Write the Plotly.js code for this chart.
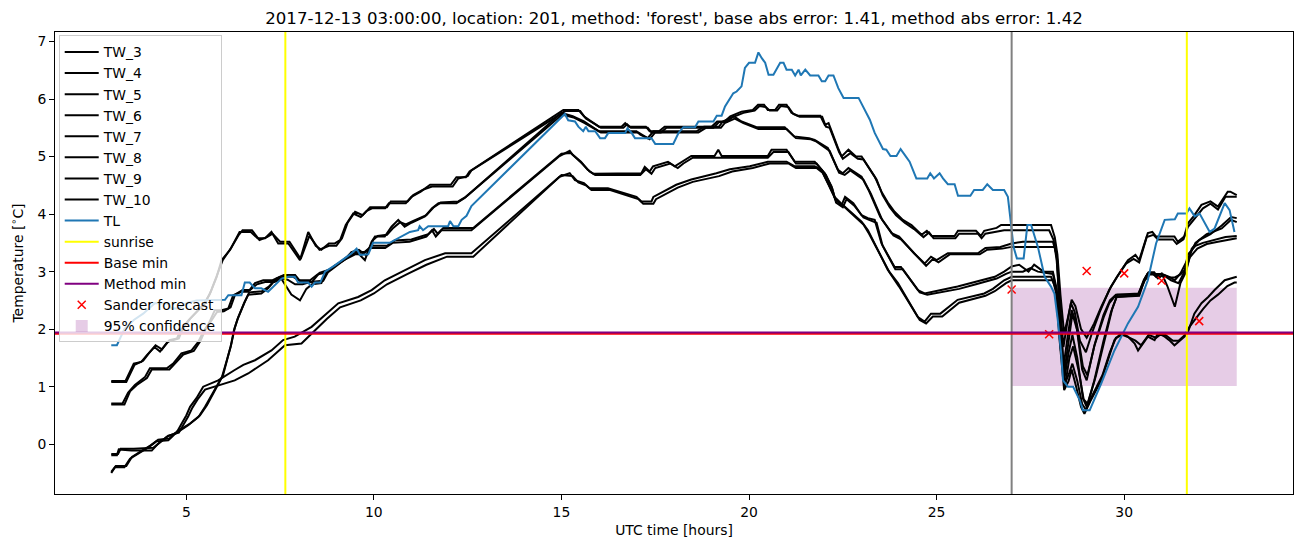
<!DOCTYPE html>
<html>
<head>
<meta charset="utf-8">
<script src="https://cdn.plot.ly/plotly-3.0.1.min.js"></script>
<style>
  html, body { margin: 0; padding: 0; background: #fff; }
  #plot { width: 1302px; height: 547px; }
</style>
</head>
<body>
<div id="plot"></div>
<script>
// water temperature sensors, [hour, value]
const tw3 = [[3.0,1.10],[3.38,1.10],[3.6,1.40],[3.8,1.43],[3.95,1.55],[4.15,1.69],[4.3,1.61],[4.45,1.72],[4.55,1.81],[4.75,1.84],[4.85,1.98],[5.05,2.15],[5.27,2.3],[5.45,2.42],[5.62,2.6],[5.81,2.91],[5.94,3.2],[6.17,3.38],[6.42,3.69],[6.55,3.69],[6.72,3.69],[6.9,3.58],[7.1,3.58],[7.27,3.69],[7.45,3.49],[7.72,3.49],[8.03,3.20],[8.25,3.69],[8.45,3.45],[8.6,3.38],[8.8,3.49],[8.96,3.49],[9.1,3.55],[9.25,3.81],[9.45,4.01],[9.65,3.95],[9.8,4.05],[9.95,4.10],[10.3,4.10],[10.4,4.19],[10.85,4.19],[11.0,4.30],[11.25,4.39],[11.5,4.51],[12.05,4.51],[12.2,4.64],[12.45,4.64],[12.55,4.74],[15.05,5.81],[15.45,5.81],[15.6,5.70],[15.8,5.61],[16.0,5.52],[16.6,5.52],[16.7,5.58],[16.8,5.52],[17.25,5.52],[17.35,5.44],[17.6,5.44],[17.75,5.52],[19.0,5.52],[19.15,5.61],[19.35,5.61],[19.5,5.70],[19.8,5.78],[20.1,5.81],[20.24,5.90],[20.4,5.90],[20.5,5.81],[20.7,5.81],[20.8,5.90],[21.0,5.90],[21.13,5.76],[21.3,5.71],[21.9,5.71],[22.02,5.55],[22.12,5.58],[22.37,5.15],[22.47,5.00],[22.65,5.12],[22.85,5.00],[23.0,5.00],[23.17,4.83],[23.35,4.65],[23.53,4.39],[23.7,4.2],[23.88,4.04],[24.1,3.9],[24.33,3.81],[24.6,3.64],[24.74,3.71],[24.87,3.62],[25.48,3.62],[25.57,3.71],[26.05,3.71],[26.18,3.62],[26.27,3.71],[26.6,3.76],[26.72,3.81],[28.05,3.81],[28.15,3.6],[28.22,3.3],[28.3,2.6],[28.4,1.92],[28.5,2.2],[28.6,2.51],[28.7,2.4],[28.85,2.0],[29.0,1.85],[29.2,2.1],[29.39,2.39],[29.65,2.74],[29.85,2.95],[30.1,3.20],[30.3,3.29],[30.4,3.20],[30.63,3.67],[30.75,3.69],[30.85,3.61],[31.34,3.61],[31.43,3.52],[31.6,3.61],[31.7,3.84],[31.85,3.96],[32.06,4.16],[32.3,4.22],[32.5,4.13],[32.76,4.39],[32.83,4.39],[33.0,4.33]];
const tw4 = [[3.0,1.08],[3.4,1.08],[3.62,1.38],[3.85,1.45],[4.0,1.58],[4.18,1.72],[4.35,1.65],[4.5,1.78],[4.8,1.84],[4.9,2.0],[5.1,2.18],[5.3,2.32],[5.5,2.45],[5.65,2.65],[5.85,2.98],[5.97,3.2],[6.2,3.42],[6.4,3.64],[6.5,3.72],[6.75,3.72],[6.95,3.55],[7.15,3.6],[7.3,3.66],[7.5,3.52],[7.75,3.52],[8.05,3.22],[8.28,3.62],[8.42,3.5],[8.55,3.38],[8.8,3.45],[9.0,3.45],[9.15,3.58],[9.3,3.85],[9.5,4.04],[9.7,3.98],[9.9,4.12],[10.35,4.12],[10.45,4.22],[10.9,4.22],[11.05,4.33],[11.3,4.42],[11.55,4.48],[12.1,4.48],[12.25,4.62],[12.5,4.66],[12.6,4.76],[15.1,5.79],[15.5,5.79],[15.65,5.66],[15.85,5.58],[16.05,5.5],[16.65,5.5],[16.75,5.56],[16.85,5.5],[17.3,5.5],[17.4,5.42],[17.65,5.42],[17.8,5.5],[19.05,5.5],[19.2,5.6],[19.4,5.6],[19.55,5.68],[19.85,5.76],[20.15,5.8],[20.28,5.88],[20.45,5.86],[20.55,5.8],[20.75,5.8],[20.85,5.88],[21.05,5.86],[21.18,5.74],[21.35,5.69],[21.95,5.69],[22.05,5.52],[22.15,5.5],[22.4,5.08],[22.5,4.96],[22.7,5.06],[22.9,4.96],[23.05,4.95],[23.2,4.8],[23.4,4.6],[23.56,4.33],[23.75,4.12],[23.92,3.98],[24.15,3.85],[24.4,3.74],[24.65,3.6],[24.8,3.68],[24.92,3.58],[25.5,3.58],[25.6,3.66],[26.1,3.66],[26.2,3.58],[26.3,3.66],[26.65,3.7],[26.8,3.72],[28.0,3.72],[28.12,3.55],[28.2,3.2],[28.28,2.5],[28.38,1.69],[28.48,2.1],[28.58,2.45],[28.68,2.3],[28.82,1.8],[28.98,1.6],[29.15,1.95],[29.35,2.3],[29.6,2.68],[29.8,2.9],[30.05,3.14],[30.25,3.22],[30.4,3.16],[30.6,3.6],[30.78,3.64],[30.9,3.56],[31.3,3.56],[31.4,3.48],[31.58,3.56],[31.7,3.78],[31.88,3.92],[32.1,4.1],[32.3,4.18],[32.5,4.08],[32.7,4.3],[32.85,4.3],[33.0,4.3]];
const tw5 = [[3.0,0.71],[3.3,0.71],[3.45,0.9],[3.63,1.03],[3.9,1.17],[4.03,1.32],[4.48,1.32],[4.65,1.40],[4.87,1.58],[5.14,1.63],[5.32,1.78],[5.45,1.95],[5.6,2.1],[5.76,2.33],[5.94,2.33],[6.12,2.36],[6.25,2.59],[6.47,2.65],[6.65,2.65],[6.83,2.80],[7.05,2.85],[7.3,2.85],[7.5,2.91],[7.62,2.78],[7.8,2.6],[8.03,2.50],[8.2,2.7],[8.35,2.78],[8.6,2.80],[8.75,3.0],[8.95,3.1],[9.2,3.2],[9.35,3.3],[9.58,3.32],[9.76,3.2],[9.94,3.52],[10.03,3.61],[10.29,3.61],[10.47,3.78],[10.65,3.90],[10.82,3.78],[11.0,3.85],[11.36,3.96],[11.55,4.1],[11.72,4.19],[12.2,4.19],[12.42,4.28],[15.0,5.76],[15.3,5.70],[15.6,5.61],[16.0,5.44],[17.0,5.44],[17.1,5.38],[17.3,5.32],[17.45,5.44],[18.6,5.44],[18.8,5.52],[19.2,5.52],[19.3,5.61],[19.6,5.70],[19.8,5.61],[20.2,5.51],[20.95,5.51],[21.2,5.35],[21.6,5.32],[21.75,5.29],[22.1,5.15],[22.37,4.77],[22.5,4.71],[22.65,4.80],[23.0,4.65],[23.2,4.4],[23.5,3.95],[23.8,3.67],[24.0,3.61],[24.4,3.32],[24.68,3.14],[24.85,3.26],[25.0,3.20],[25.3,3.32],[26.1,3.32],[26.3,3.41],[26.7,3.43],[27.0,3.49],[27.3,3.52],[28.1,3.52],[28.2,3.3],[28.28,2.3],[28.38,1.34],[28.5,1.9],[28.6,2.33],[28.72,2.1],[28.88,1.3],[29.0,1.11],[29.2,1.7],[29.45,2.2],[29.6,2.45],[29.74,2.56],[30.36,2.59],[30.5,2.8],[30.63,2.97],[30.75,2.97],[30.85,2.91],[31.0,2.97],[31.15,2.75],[31.35,2.39],[31.5,2.8],[31.65,3.0],[31.8,3.4],[32.0,3.55],[32.3,3.65],[32.6,3.8],[32.85,3.95],[33.0,3.93]];
const tw6 = [[3.0,0.69],[3.35,0.69],[3.5,0.92],[3.68,1.03],[3.95,1.15],[4.08,1.3],[4.55,1.3],[4.72,1.42],[4.92,1.56],[5.2,1.62],[5.38,1.8],[5.5,1.98],[5.65,2.12],[5.82,2.3],[6.0,2.31],[6.18,2.38],[6.3,2.6],[6.5,2.68],[6.7,2.68],[6.88,2.78],[7.1,2.82],[7.35,2.82],[7.55,2.88],[7.7,2.86],[7.9,2.78],[8.1,2.78],[8.3,2.82],[8.65,2.84],[8.8,3.02],[9.0,3.12],[9.25,3.22],[9.4,3.34],[9.6,3.38],[9.8,3.28],[9.98,3.55],[10.1,3.62],[10.35,3.64],[10.5,3.75],[10.7,3.86],[10.85,3.82],[11.05,3.88],[11.4,3.98],[11.6,4.12],[11.78,4.2],[12.25,4.22],[12.45,4.3],[15.02,5.73],[15.32,5.68],[15.62,5.58],[16.05,5.42],[17.05,5.42],[17.35,5.3],[17.5,5.42],[18.65,5.42],[18.85,5.5],[19.25,5.5],[19.35,5.58],[19.62,5.66],[19.85,5.58],[20.25,5.48],[21.0,5.48],[21.25,5.32],[21.65,5.3],[21.8,5.26],[22.15,5.1],[22.4,4.72],[22.55,4.68],[22.7,4.76],[23.05,4.6],[23.25,4.35],[23.55,3.9],[23.85,3.63],[24.05,3.56],[24.45,3.28],[24.72,3.1],[24.9,3.22],[25.05,3.16],[25.35,3.3],[26.15,3.3],[26.35,3.38],[26.75,3.4],[27.0,3.43],[28.15,3.43],[28.22,3.2],[28.3,2.2],[28.4,1.23],[28.52,1.8],[28.62,2.27],[28.74,2.0],[28.9,1.35],[29.02,1.2],[29.22,1.75],[29.45,2.25],[29.62,2.5],[29.78,2.6],[30.4,2.62],[30.55,2.85],[30.68,2.95],[30.8,2.95],[30.9,2.88],[31.05,2.95],[31.2,2.91],[31.35,2.85],[31.5,2.97],[31.68,3.2],[31.9,3.5],[32.2,3.65],[32.6,3.75],[32.85,3.9],[33.0,3.86]];
const tw7 = [[3.0,-0.50],[3.1,-0.40],[3.35,-0.40],[3.5,-0.25],[3.75,-0.15],[4.0,-0.05],[4.2,0.05],[4.52,0.07],[4.7,0.18],[5.05,0.33],[5.32,0.47],[5.5,0.65],[5.7,0.88],[5.95,1.17],[6.08,1.46],[6.18,1.69],[6.27,1.98],[6.36,2.16],[6.54,2.45],[6.65,2.6],[7.0,2.62],[7.18,2.71],[7.36,2.85],[7.54,2.91],[7.85,2.91],[8.0,2.85],[8.3,2.85],[8.5,2.95],[8.8,3.0],[9.0,3.1],[9.2,3.2],[9.5,3.3],[9.7,3.3],[9.9,3.41],[10.3,3.41],[10.5,3.50],[10.95,3.52],[11.4,3.61],[11.55,3.72],[11.65,3.61],[11.8,3.72],[12.6,3.72],[14.95,5.01],[15.22,5.10],[15.3,5.03],[15.52,4.91],[15.7,4.77],[15.85,4.70],[17.13,4.71],[17.22,4.82],[17.35,4.74],[17.44,4.83],[17.84,4.91],[18.02,4.83],[18.2,4.91],[18.46,5.01],[19.08,5.01],[19.18,5.12],[19.27,5.01],[20.5,5.01],[20.6,5.12],[21.0,5.12],[21.22,4.91],[21.75,4.91],[22.02,4.71],[22.2,4.48],[22.3,4.25],[22.47,4.16],[22.56,4.30],[22.78,4.19],[23.0,3.98],[23.17,3.93],[23.35,3.90],[23.53,3.49],[23.88,3.08],[24.05,3.08],[24.5,2.68],[24.68,2.62],[25.56,2.74],[26.0,2.82],[26.55,2.91],[26.8,3.0],[27.0,3.09],[27.2,3.12],[27.45,3.0],[27.6,3.12],[27.85,3.0],[28.1,3.0],[28.2,2.7],[28.3,1.8],[28.4,1.11],[28.52,1.6],[28.62,1.9],[28.75,1.5],[28.9,0.8],[29.0,0.65],[29.2,1.1],[29.45,1.8],[29.65,2.3],[29.8,2.56],[30.4,2.58],[30.55,2.88],[30.65,2.99],[30.8,2.99],[30.9,2.9],[31.05,2.94],[31.25,2.85],[31.45,2.8],[31.6,2.99],[31.7,3.3],[31.9,3.45],[32.1,3.5],[32.4,3.55],[32.7,3.6],[33.0,3.62]];
const tw8 = [[3.0,-0.48],[3.12,-0.38],[3.4,-0.38],[3.55,-0.22],[3.8,-0.12],[4.05,-0.02],[4.25,0.08],[4.55,0.1],[4.75,0.22],[5.1,0.36],[5.36,0.5],[5.55,0.68],[5.75,0.92],[5.98,1.2],[6.1,1.5],[6.2,1.74],[6.29,2.02],[6.38,2.2],[6.56,2.48],[6.68,2.64],[7.02,2.66],[7.2,2.74],[7.4,2.88],[7.6,2.94],[7.9,2.94],[8.05,2.82],[8.35,2.82],[8.55,2.98],[8.85,3.04],[9.05,3.14],[9.25,3.24],[9.55,3.34],[9.75,3.34],[9.95,3.45],[10.35,3.45],[10.55,3.54],[11.0,3.56],[11.45,3.65],[11.6,3.74],[11.7,3.66],[11.85,3.76],[12.65,3.76],[15.0,5.05],[15.25,5.06],[15.55,4.88],[15.75,4.74],[15.9,4.68],[17.1,4.68],[17.25,4.78],[17.4,4.7],[17.5,4.8],[17.9,4.88],[18.1,4.8],[18.25,4.88],[18.5,4.98],[20.5,4.98],[20.65,5.08],[21.05,5.08],[21.25,4.88],[21.8,4.88],[22.05,4.68],[22.22,4.44],[22.32,4.2],[22.5,4.12],[22.6,4.26],[22.8,4.15],[23.05,3.94],[23.2,3.9],[23.4,3.85],[23.56,3.45],[23.9,3.04],[24.1,3.04],[24.55,2.64],[24.75,2.6],[25.6,2.7],[26.05,2.78],[26.6,2.88],[26.85,2.96],[27.0,3.0],[27.3,3.0],[27.5,3.06],[27.7,3.0],[28.1,2.96],[28.22,2.6],[28.32,1.7],[28.42,1.0],[28.54,1.5],[28.64,1.7],[28.78,1.3],[28.92,0.78],[29.03,0.7],[29.25,1.2],[29.5,1.9],[29.68,2.35],[29.82,2.6],[30.38,2.6],[30.52,2.85],[30.62,2.96],[31.0,2.96],[31.2,2.9],[31.35,2.9],[31.5,2.95],[31.65,3.05],[31.75,3.25],[31.95,3.4],[32.2,3.48],[32.5,3.52],[32.8,3.56],[33.0,3.58]];
const tw9 = [[3.0,-0.19],[3.15,-0.19],[3.2,-0.09],[3.54,-0.11],[4.08,-0.11],[4.25,0.01],[4.48,0.13],[4.74,0.2],[4.87,0.35],[5.0,0.5],[5.1,0.65],[5.27,0.8],[5.45,1.0],[5.85,1.11],[6.29,1.29],[6.52,1.38],[6.83,1.46],[7.27,1.63],[7.58,1.81],[7.89,1.87],[8.34,2.04],[8.7,2.25],[9.05,2.45],[9.58,2.56],[9.94,2.68],[10.29,2.85],[10.82,3.03],[11.36,3.20],[11.9,3.32],[12.6,3.32],[14.95,4.65],[15.22,4.71],[15.36,4.59],[15.6,4.54],[15.75,4.45],[16.24,4.45],[17.0,4.30],[17.13,4.22],[17.4,4.22],[17.45,4.30],[18.06,4.51],[18.46,4.60],[19.13,4.71],[19.49,4.78],[20.02,4.83],[20.5,4.91],[21.0,4.91],[21.22,4.83],[21.75,4.83],[21.93,4.77],[22.1,4.54],[22.28,4.30],[22.45,4.19],[23.0,3.87],[23.17,3.72],[23.53,3.26],[23.7,3.03],[23.97,2.80],[24.5,2.21],[24.68,2.13],[24.85,2.27],[25.1,2.27],[25.56,2.51],[26.27,2.62],[26.5,2.7],[26.8,2.85],[27.0,2.91],[28.05,2.91],[28.18,2.7],[28.28,1.8],[28.4,0.94],[28.52,1.1],[28.6,1.3],[28.72,1.0],[28.85,0.65],[28.94,0.53],[29.1,0.75],[29.39,1.11],[29.6,1.55],[29.74,1.81],[29.92,1.93],[30.1,1.87],[30.28,1.75],[30.37,1.63],[30.63,1.87],[30.81,1.81],[30.9,1.93],[31.08,1.87],[31.2,1.81],[31.34,1.72],[31.61,1.87],[31.7,1.95],[31.87,2.27],[32.06,2.45],[32.24,2.56],[32.41,2.68],[32.68,2.85],[32.94,2.91],[33.0,2.91]];
const tw10 = [[3.0,-0.17],[3.18,-0.17],[3.25,-0.08],[3.6,-0.08],[4.12,-0.06],[4.3,0.03],[4.52,0.15],[4.8,0.2],[4.92,0.33],[5.05,0.48],[5.15,0.62],[5.3,0.78],[5.5,0.95],[6.29,1.11],[6.65,1.23],[7.18,1.46],[7.63,1.72],[8.07,1.75],[8.4,1.96],[8.75,2.18],[9.1,2.38],[9.65,2.5],[10.0,2.62],[10.35,2.78],[10.9,2.96],[11.4,3.12],[11.95,3.26],[12.65,3.26],[15.0,4.68],[15.3,4.66],[15.45,4.55],[15.65,4.5],[15.8,4.42],[16.3,4.42],[17.05,4.26],[17.18,4.18],[17.45,4.18],[17.52,4.26],[18.1,4.46],[18.5,4.56],[19.2,4.66],[19.55,4.74],[20.1,4.8],[20.55,4.88],[21.05,4.88],[21.25,4.8],[21.8,4.8],[21.96,4.72],[22.13,4.5],[22.3,4.26],[22.5,4.15],[23.05,3.82],[23.2,3.66],[23.56,3.2],[23.75,2.98],[24.0,2.74],[24.55,2.16],[24.72,2.1],[24.9,2.22],[25.15,2.22],[25.6,2.46],[26.3,2.58],[26.55,2.66],[26.85,2.8],[27.0,2.85],[28.1,2.85],[28.2,2.6],[28.3,1.7],[28.42,1.05],[28.54,1.25],[28.62,1.4],[28.75,1.1],[28.88,0.7],[28.98,0.6],[29.15,0.85],[29.42,1.2],[29.62,1.6],[29.78,1.85],[29.95,1.9],[30.15,1.85],[30.3,1.8],[30.45,1.72],[30.65,1.9],[30.85,1.85],[30.95,1.9],[31.1,1.9],[31.3,1.8],[31.45,1.8],[31.62,1.9],[31.75,2.05],[31.92,2.2],[32.1,2.35],[32.3,2.5],[32.5,2.6],[32.75,2.75],[32.94,2.81],[33.0,2.81]];

// air temperature
const tl = [[3.0,1.72],[3.15,1.72],[3.35,2.0],[3.6,2.16],[3.85,2.27],[4.16,2.45],[4.5,2.45],[4.6,2.36],[4.8,2.36],[5.0,2.45],[5.27,2.5],[5.8,2.5],[6.03,2.51],[6.12,2.59],[6.47,2.59],[6.56,2.81],[6.69,2.81],[6.83,2.71],[7.0,2.71],[7.18,2.65],[7.36,2.77],[7.54,2.88],[7.72,2.91],[7.89,2.91],[7.98,2.81],[8.25,2.81],[8.34,2.74],[8.43,2.81],[8.57,2.81],[8.7,3.0],[8.96,3.11],[9.18,3.21],[9.41,3.32],[9.54,3.40],[9.63,3.29],[9.85,3.30],[9.98,3.50],[10.42,3.50],[10.74,3.61],[10.96,3.69],[11.18,3.72],[11.22,3.79],[11.31,3.72],[11.45,3.79],[11.98,3.79],[12.03,3.88],[12.12,3.79],[12.25,3.79],[12.34,3.90],[12.47,3.97],[12.6,4.14],[15.04,5.71],[15.09,5.74],[15.18,5.63],[15.36,5.61],[15.45,5.52],[15.58,5.44],[15.65,5.52],[15.72,5.44],[15.9,5.44],[16.03,5.32],[16.16,5.32],[16.25,5.41],[16.7,5.41],[16.76,5.49],[16.87,5.41],[16.96,5.32],[17.4,5.32],[17.5,5.22],[17.98,5.22],[18.12,5.41],[18.25,5.51],[18.56,5.51],[18.65,5.61],[19.05,5.61],[19.14,5.71],[19.27,5.71],[19.36,5.87],[19.58,6.10],[19.67,6.13],[19.8,6.22],[19.89,6.54],[20.0,6.63],[20.16,6.63],[20.25,6.81],[20.34,6.71],[20.43,6.63],[20.52,6.42],[20.65,6.42],[20.83,6.63],[20.92,6.63],[21.0,6.51],[21.14,6.51],[21.23,6.41],[21.32,6.51],[21.38,6.41],[21.5,6.51],[21.63,6.41],[21.85,6.41],[21.94,6.31],[22.03,6.31],[22.12,6.41],[22.25,6.41],[22.38,6.19],[22.52,6.02],[22.92,6.02],[23.22,5.64],[23.35,5.41],[23.57,5.13],[23.66,5.12],[23.77,5.01],[23.93,5.01],[24.04,5.13],[24.15,5.03],[24.28,4.91],[24.46,4.62],[24.75,4.62],[24.83,4.71],[24.93,4.62],[25.08,4.71],[25.17,4.62],[25.3,4.52],[25.48,4.52],[25.57,4.32],[25.9,4.32],[26.0,4.42],[26.23,4.42],[26.35,4.52],[26.5,4.42],[26.8,4.42],[26.9,4.30],[26.96,3.96],[27.05,3.43],[27.14,3.23],[27.32,3.23],[27.42,3.81],[27.52,3.81],[27.7,3.43],[27.88,2.91],[28.05,2.74],[28.14,2.62],[28.23,2.16],[28.32,1.58],[28.37,1.11],[28.5,1.0],[28.64,1.0],[28.82,0.76],[28.9,0.59],[29.08,0.59],[29.39,1.06],[29.74,1.63],[30.1,2.10],[30.37,2.39],[30.63,2.85],[30.85,3.49],[31.08,3.90],[31.35,3.91],[31.43,4.01],[31.66,4.01],[31.74,4.10],[31.88,3.96],[32.01,4.01],[32.28,3.69],[32.41,3.75],[32.68,4.19],[32.81,4.07],[32.94,3.69]];

const sanderT = [27, 28, 29, 30, 31, 32];
const sanderV = [2.69, 1.91, 3.01, 2.97, 2.84, 2.14];

const sunrise = [7.64, 31.67];
const forecastHour = 27;
const baseMin = 1.92;
const methodMin = 1.94;
const confFrom = 27, confTo = 33;
const confLow = 1.01, confHigh = 2.72;

const twSeries = [tw3, tw4, tw5, tw6, tw7, tw8, tw9, tw10];
const twNames = ['TW_3', 'TW_4', 'TW_5', 'TW_6', 'TW_7', 'TW_8', 'TW_9', 'TW_10'];

const font = 'DejaVu Sans, Liberation Sans, sans-serif';

const traces = twSeries.map((s, i) => ({
    x: s.map(p => p[0]),
    y: s.map(p => p[1]),
    mode: 'lines',
    type: 'scatter',
    name: twNames[i],
    legendrank: i + 1,
    line: { color: 'black', width: 2 }
}));

traces.push({
    x: tl.map(p => p[0]),
    y: tl.map(p => p[1]),
    mode: 'lines',
    type: 'scatter',
    name: 'TL',
    legendrank: 9,
    line: { color: '#1f77b4', width: 2 }
});

traces.push({
    x: sanderT,
    y: sanderV,
    mode: 'markers',
    type: 'scatter',
    name: 'Sander forecast',
    legendrank: 13,
    marker: { symbol: 'x-thin', size: 8, line: { color: 'red', width: 1.5 }, color: 'red' }
});

const shapes = [
    {
        type: 'rect', xref: 'x', yref: 'y',
        x0: confFrom, x1: confTo, y0: confLow, y1: confHigh,
        fillcolor: 'rgba(128,0,128,0.2)', line: { width: 0 }, layer: 'below',
        showlegend: true, name: '95% confidence', legendrank: 14
    },
    {
        type: 'line', xref: 'x', yref: 'paper',
        x0: forecastHour, x1: forecastHour, y0: 0, y1: 1,
        line: { color: 'gray', width: 2 }, layer: 'above'
    },
    ...sunrise.map((s, i) => ({
        type: 'line', xref: 'x', yref: 'paper',
        x0: s, x1: s, y0: 0, y1: 1,
        line: { color: 'yellow', width: 2 }, layer: 'above',
        showlegend: i === 0, name: 'sunrise', legendrank: 10
    })),
    {
        type: 'line', xref: 'paper', yref: 'y',
        x0: 0, x1: 1, y0: baseMin, y1: baseMin,
        line: { color: 'red', width: 2 }, layer: 'above',
        showlegend: true, name: 'Base min', legendrank: 11
    },
    {
        type: 'line', xref: 'paper', yref: 'y',
        x0: 0, x1: 1, y0: methodMin, y1: methodMin,
        line: { color: 'purple', width: 2 }, layer: 'above',
        showlegend: true, name: 'Method min', legendrank: 12
    }
];

const axisCommon = {
    showline: true, mirror: true, linecolor: 'black', linewidth: 1,
    ticks: 'outside', ticklen: 5, tickwidth: 1, tickcolor: 'black',
    showgrid: false, zeroline: false,
    tickfont: { family: font, size: 13.9, color: 'black' }
};

const layout = {
    width: 1302, height: 547,
    margin: { l: 55, r: 9, t: 32, b: 53 },
    paper_bgcolor: 'white', plot_bgcolor: 'white',
    font: { family: font, size: 13.9, color: 'black' },
    title: {
        text: "2017-12-13 03:00:00, location: 201, method: 'forest', base abs error: 1.41, method abs error: 1.42",
        font: { family: font, size: 16.6, color: 'black' },
        x: 0.5, xref: 'paper', xanchor: 'center',
        y: 0.967, yref: 'container', yanchor: 'middle'
    },
    xaxis: {
        ...axisCommon,
        range: [1.5, 34.5], tick0: 0, dtick: 5,
        title: { text: 'UTC time [hours]', font: { family: font, size: 13.9 }, standoff: 6 }
    },
    yaxis: {
        ...axisCommon,
        range: [-0.865, 7.165], tick0: 0, dtick: 1,
        title: { text: 'Temperature [<sup>∘</sup>C]', font: { family: font, size: 13.9 }, standoff: 10 }
    },
    showlegend: true,
    legend: {
        x: 0.003, y: 0.9925, xanchor: 'left', yanchor: 'top',
        bgcolor: 'rgba(255,255,255,0.8)', bordercolor: '#cccccc', borderwidth: 1,
        font: { family: font, size: 13.9, color: 'black' },
        traceorder: 'normal', itemwidth: 34
    },
    shapes: shapes
};

Plotly.newPlot('plot', traces, layout, { displayModeBar: false, staticPlot: true });
</script>
</body>
</html>
